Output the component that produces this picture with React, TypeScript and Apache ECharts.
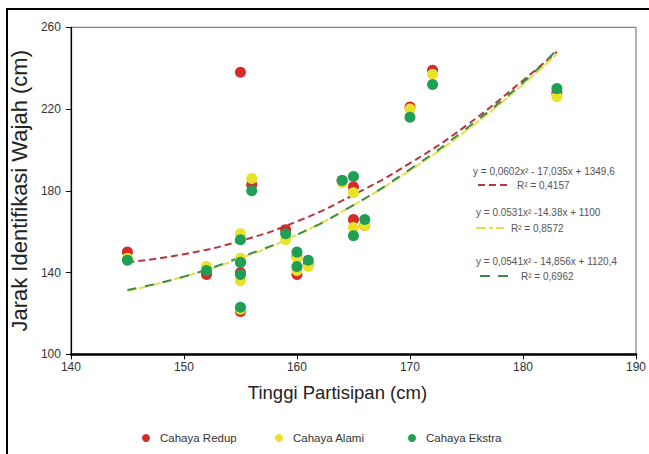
import React, { useEffect, useRef } from "react";
import * as echarts from "echarts";

// Participant heights (x) and face-identification distances (y) per lighting condition
const heights = [145, 152, 155, 155, 155, 155, 156, 159, 160, 160, 161, 164, 165, 165, 166, 170, 172, 183];
const redup = [150, 139, 238, 145, 140, 121, 183, 161, 148, 139, 144, 185, 182, 166, 163, 221, 239, 228];
const alami = [147, 143, 159, 147, 136, 122, 186, 156, 147, 141, 143, 184, 179, 162, 163, 220, 237, 226];
const ekstra = [146, 141, 156, 145, 139, 123, 180, 159, 150, 143, 146, 185, 187, 158, 166, 216, 232, 230];

// Polynomial trend curves
const trendX = [145, 150, 155, 160, 165, 170, 175, 180, 183];
const trendRedup = [145, 149, 155.5, 165, 178, 193.5, 212, 234, 248];
const trendAlami = [131, 138, 147, 158.5, 173, 190, 209.5, 232, 247];
const trendEkstra = [131.5, 138, 147.5, 158.5, 173, 190.5, 210.5, 233, 249];

const seriesNames = ["Cahaya Redup", "Cahaya Alami", "Cahaya Ekstra"];
const equations = [
  "y = 0,0602x² - 17,035x + 1349,6",
  "y = 0.0531x² -14.38x + 1100",
  "y = 0,0541x² - 14,856x + 1120,4",
];
const r2Labels = ["R² = 0,4157", "R² = 0,8572", "R² = 0,6962"];

const xTicks = { min: 140, max: 190, interval: 10 };
const yTicks = { min: 100, max: 260, interval: 40 };

const RED = "#d42b2b";
const YELLOW = "#e8e22a";
const GREEN = "#1f9e55";
const SANS = "'Liberation Sans', Arial, sans-serif";

const pairs = (xs: number[], ys: number[]) => xs.map((x, i) => [x, ys[i]]);

export default function App() {
  const ref = useRef<HTMLDivElement>(null);
  useEffect(() => {
    if (!ref.current) return;
    const chart = echarts.init(ref.current, undefined, { renderer: "svg" });
    const scatter = (name: string, data: number[], color: string) => ({
      name,
      type: "scatter",
      data: pairs(heights, data),
      symbol: "circle",
      symbolSize: 11,
      itemStyle: { color, opacity: 1 },
      z: 3,
    });
    const trend = (data: number[], color: string, dash: number[], z: number) => ({
      type: "line",
      data: pairs(trendX, data),
      smooth: true,
      showSymbol: false,
      symbol: "none",
      lineStyle: { color, width: 2, type: dash },
      z,
      silent: true,
    });
    const eqFont = `10px ${SANS}`;
    const eqBlocks = [
      { tx: 473, ty: 171, lx1: 478, lx2: 507, ly: 185, rx: 517, color: "#b5373a", dash: [7, 4] },
      { tx: 476, ty: 212, lx1: 476, lx2: 504, ly: 228, rx: 511, color: "#e5e04a", dash: [10, 3, 4, 3] },
      { tx: 476, ty: 261, lx1: 480, lx2: 508, ly: 276, rx: 521, color: "#3d8c4d", dash: [10, 8] },
    ];
    const graphics: any[] = [];
    eqBlocks.forEach((b, i) => {
      graphics.push({
        type: "text",
        x: b.tx,
        y: b.ty,
        style: { text: equations[i], fill: "#555", font: eqFont, verticalAlign: "middle" },
      });
      graphics.push({
        type: "line",
        shape: { x1: b.lx1, y1: b.ly, x2: b.lx2, y2: b.ly },
        style: { stroke: b.color, lineWidth: 2, lineDash: b.dash },
      });
      graphics.push({
        type: "text",
        x: b.rx,
        y: b.ly,
        style: { text: r2Labels[i], fill: "#555", font: eqFont, verticalAlign: "middle" },
      });
    });
    // outer frame (top and left edges)
    graphics.push({ type: "line", shape: { x1: 6, y1: 9, x2: 649, y2: 9 }, style: { stroke: "#000", lineWidth: 2 } });
    graphics.push({ type: "line", shape: { x1: 7, y1: 8, x2: 7, y2: 454 }, style: { stroke: "#000", lineWidth: 2 } });

    const legendBase = (name: string, left: number) => ({
      data: [name],
      left,
      top: 432,
      orient: "horizontal",
      icon: "circle",
      itemWidth: 8,
      itemHeight: 8,
      itemGap: 0,
      padding: 0,
      textStyle: { fontFamily: SANS, fontSize: 11.5, color: "#333", padding: [0, 0, 0, 5] },
    });

    chart.setOption({
      animation: false,
      backgroundColor: "#fff",
      grid: {
        left: 62,
        right: 11.5,
        top: 27.3,
        bottom: 99.7,
        show: true,
        borderColor: "#666",
        borderWidth: 1,
        backgroundColor: "transparent",
      },
      legend: [
        legendBase(seriesNames[0], 142),
        legendBase(seriesNames[1], 275),
        legendBase(seriesNames[2], 408),
      ],
      xAxis: {
        type: "value",
        min: xTicks.min,
        max: xTicks.max,
        interval: xTicks.interval,
        name: "Tinggi Partisipan (cm)",
        nameLocation: "middle",
        nameGap: 29,
        nameTextStyle: { fontFamily: SANS, fontSize: 18.5, color: "#222", padding: [0, 32, 0, 0] },
        axisLine: { show: true, onZero: false, lineStyle: { color: "#000", width: 2.5 } },
        axisTick: { show: true, length: 5, lineStyle: { color: "#000", width: 1 } },
        axisLabel: { fontFamily: SANS, fontSize: 12, color: "#333", margin: 7 },
        splitLine: { show: false },
      },
      yAxis: {
        type: "value",
        min: yTicks.min,
        max: yTicks.max,
        interval: yTicks.interval,
        name: "Jarak Identifikasi Wajah (cm)",
        nameLocation: "middle",
        nameGap: 34,
        nameTextStyle: { fontFamily: SANS, fontSize: 22, color: "#222" },
        axisLine: { show: true, onZero: false, lineStyle: { color: "#000", width: 1.2 } },
        axisTick: { show: true, length: 5, lineStyle: { color: "#000", width: 1 } },
        axisLabel: { fontFamily: SANS, fontSize: 12, color: "#333", margin: 10 },
        splitLine: { show: false },
      },
      series: [
        trend(trendRedup, "#b5373a", [7, 4], 2),
        trend(trendAlami, "#e5e04a", [10, 2], 2),
        trend(trendEkstra, "#3d8c4d", [9, 9], 2),
        scatter(seriesNames[0], redup, RED),
        scatter(seriesNames[1], alami, YELLOW),
        scatter(seriesNames[2], ekstra, GREEN),
      ],
      graphic: graphics,
    });
    return () => chart.dispose();
  }, []);
  return (
    <div
      ref={ref}
      style={{ position: "fixed", left: 0, top: 0, width: 649, height: 454, background: "#fff" }}
    />
  );
}
